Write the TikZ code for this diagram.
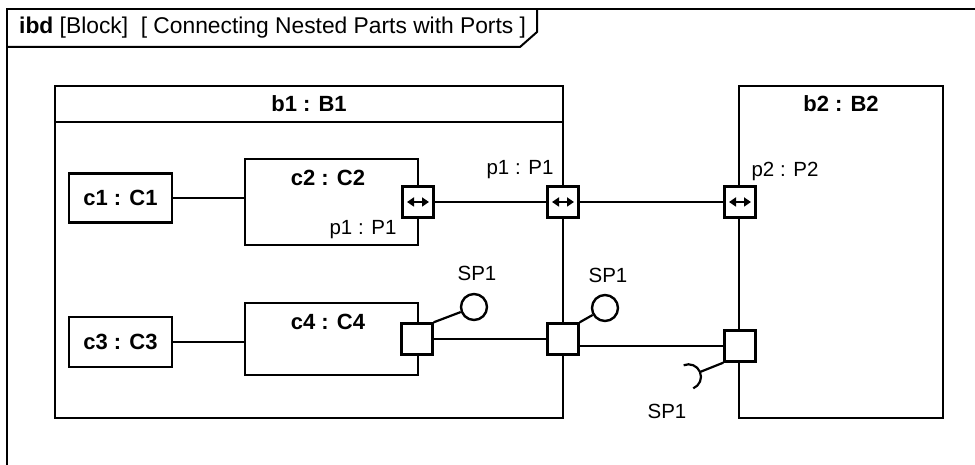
\documentclass[tikz,border=0pt]{standalone}
\usepackage{fontspec}
\setmainfont{Liberation Sans}
\usetikzlibrary{arrows.meta, calc, positioning}

\newcommand{\partfont}{\fontsize{22}{24}\selectfont\bfseries}
\newcommand{\lblfont}{\fontsize{20.5}{23}\selectfont}
\newcommand{\titlefont}{\fontsize{22.8}{25}\selectfont}

\tikzset{
  frameline/.style={line width=2pt},
  part/.style={draw, line width=2.4pt, inner sep=0pt, font=\partfont},
  partname/.style={inner sep=0pt, font=\partfont},
  port/.style={draw, fill=white, line width=2.4pt, minimum size=31pt, inner sep=0pt},
  ball/.style={circle, draw, line width=2.4pt, minimum size=26pt, inner sep=0pt},
  wire/.style={line width=2.2pt},
  lbl/.style={inner sep=0pt, font=\lblfont},
  flowtip/.style={line width=2.4pt, arrows={Triangle[length=7pt,width=9pt]-Triangle[length=7pt,width=9pt]}}
}

\begin{document}
\begin{tikzpicture}[x=1pt, y=1pt]
    \useasboundingbox (0,0) rectangle (975,465);
    % Diagram frame with its name tab
    \draw[frameline] (7,-5) -- (7,456) -- (980,456);
    \draw[frameline] (7,418) -- (520,418) -- (537,433) -- (537,456);
    \node[anchor=west, inner sep=0pt, font=\titlefont] (title) at (19,437)
        {\textbf{ibd} [Block]\ \ [ Connecting Nested Parts with Ports ]};
    % Outer blocks
    \node[part, minimum width=508pt, minimum height=332pt] (b1) at (309,213) {};
    \draw[wire] (55,343) -- (563,343);
    \node[partname] (b1name) at (309,361) {b1 : B1};
    \node[part, minimum width=204pt, minimum height=332pt] (b2) at (841,213) {};
    \node[partname] (b2name) at (841,361) {b2 : B2};
    % Nested parts
    \node[part, minimum width=103pt, minimum height=49pt] (c1) at (120.5,267) {c1 : C1};
    \node[part, minimum width=173pt, minimum height=86pt] (c2) at (331.5,263) {};
    \node[partname] (c2name) at (328,287) {c2 : C2};
    \node[part, minimum width=103pt, minimum height=50pt] (c3) at (120.5,123) {c3 : C3};
    \node[part, minimum width=173pt, minimum height=72pt] (c4) at (331.5,126) {};
    \node[partname] (c4name) at (328,143) {c4 : C4};
    \draw[wire] (c1) -- (c1 -| c2.west);
    \draw[wire] (c3) -- (c3 -| c4.west);
    % Flow ports
    \draw[wire] (418,263) -- (740,263);
    \node[port] (c2p) at (418,263) {};
    \node[port] (b1p) at (563,263) {};
    \node[port] (b2p) at (740,263) {};
    \foreach \p in {c2p,b1p,b2p}
        \draw[flowtip] ($(\p)+(-11,0)$) -- ($(\p)+(11,0)$);
    \node[lbl] (c2plabel) at (363,235) {p1 : P1};
    \node[lbl] (b1plabel) at (520,295) {p1 : P1};
    \node[lbl] (b2plabel) at (785,294) {p2 : P2};
    % Standard ports
    \node[port] (c4p) at (417,126) {};
    \node[port] (b1q) at (563,126) {};
    \node[port] (b2q) at (740,119) {};
    \draw[wire] (c4p) -- (b1q);
    \draw[wire] (b2q -| b1q.east) -- (b2q);
    % Provided and required interfaces
    \node[ball] (sp1a) at (474,158) {};
    \draw[wire] (c4p.north east) -- (sp1a);
    \node[lbl] (sp1alabel) at (477,192) {SP1};
    \node[ball] (sp1b) at (605,157) {};
    \draw[wire] (b1q.north east) -- (sp1b);
    \node[lbl] (sp1blabel) at (608,190) {SP1};
    \coordinate (skt) at (700,93);
    \draw[wire] (b2q.south west) -- (skt);
    \draw[wire] ($(skt)+(-16.34,6.74)$) arc[start angle=112.6, end angle=-67.4, radius=12.5];
    \node[lbl] (sktlabel) at (667,54) {SP1};
\end{tikzpicture}
\end{document}
